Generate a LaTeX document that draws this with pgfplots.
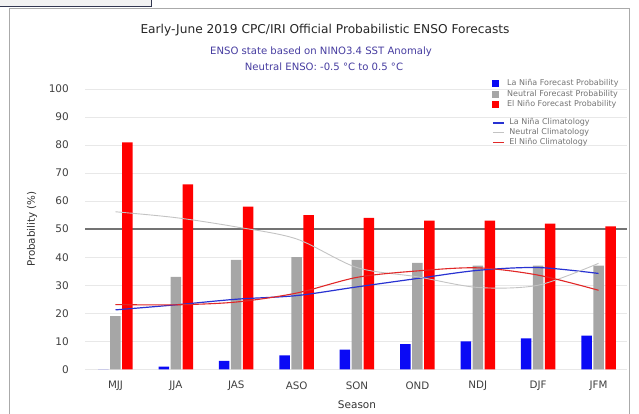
\documentclass[border=0pt]{standalone}
\usepackage{fontspec}
\setmainfont{DejaVu Sans}
\usepackage{pgfplots}
\pgfplotsset{compat=1.18}
\definecolor{lnblue}{RGB}{10,10,245}
\definecolor{neugray}{RGB}{166,166,166}
\definecolor{enred}{RGB}{255,0,0}
\definecolor{clblue}{RGB}{40,50,210}
\definecolor{clgray}{RGB}{195,195,195}
\definecolor{clred}{RGB}{225,40,40}
\definecolor{subpurple}{RGB}{70,60,160}
\definecolor{framegray}{RGB}{170,170,170}
\definecolor{boxedge}{RGB}{50,55,80}
\pgfplotsset{
  sqlegend/.style={legend image code/.code={\fill[##1,/tikz/.cd,draw=none] (0pt,-3.3pt) rectangle (7pt,3.3pt);}},
  lnlegend/.style={legend image code/.code={\draw[##1,/tikz/.cd] (0pt,0pt) -- (11pt,0pt);}},
}
\begin{document}
\begin{tikzpicture}
\path[use as bounding box] (0pt,0pt) rectangle (639pt,413pt);
% frame and top-left box
\draw[framegray, line width=1pt] (9pt,-5pt) -- (9pt,404pt) -- (629pt,404pt) -- (629pt,-5pt);
\draw[fill=black!5, draw=boxedge, line width=1pt] (-3pt,420pt) rectangle (151pt,406pt);
% titles
\node[font=\fontsize{12.2}{14}\selectfont, text=black!85] at (325pt,383pt) {Early-June 2019 CPC/IRI Official Probabilistic ENSO Forecasts};
\node[font=\fontsize{10.1}{12}\selectfont, text=subpurple] at (321pt,361pt) {ENSO state based on NINO3.4 SST Anomaly};
\node[font=\fontsize{10.1}{12}\selectfont, text=subpurple] at (324pt,346pt) {Neutral ENSO: -0.5 °C to 0.5 °C};
\node[rotate=90, font=\fontsize{10.3}{12}\selectfont, text=black!80] at (32pt,183.8pt) {Probability (\%)};
\node[font=\fontsize{10.5}{12}\selectfont, text=black!80] at (357pt,8pt) {Season};

\begin{axis}[
  at={(85pt,43.7pt)}, anchor=south west, scale only axis,
  width=542pt, height=280.3pt,
  xmin=-0.505, xmax=8.472, ymin=0, ymax=100,
  axis line style={draw=none}, major tick length=0pt,
  ytick={0,10,...,100}, ymajorgrids,
  grid style={color=black!9, line width=0.8pt},
  xtick={0,...,8}, xticklabels={MJJ,JJA,JAS,ASO,SON,OND,NDJ,DJF,JFM},
  xticklabel style={anchor=center, inner sep=0pt, yshift=-16.5pt, font=\fontsize{10.3}{11}\selectfont, text=black!75},
  yticklabel style={anchor=east, inner sep=0pt, xshift=-16pt, font=\fontsize{10.5}{11}\selectfont, text=black!75},
  /pgf/number format/assume math mode=true,
  clip=false,
  legend style={at={(axis description cs:0.7509,1.032)}, anchor=north west, draw=none, fill=none,
    inner sep=0pt, row sep=3.5pt, column sep=8pt,
    font=\fontsize{8}{8}\selectfont, text=black!55,
    nodes={inner sep=0pt, text height=5.5pt, text depth=1.5pt}},
  legend cell align=left,
]
\addplot[color=black!55, line width=2pt, forget plot] coordinates {(-0.505,50) (8.472,50)};
\addplot[ybar, bar width=10.5pt, bar shift=-12pt, fill=lnblue, draw=none, sqlegend]
  coordinates {(0,0) (1,1) (2,3) (3,5) (4,7) (5,9) (6,10) (7,11) (8,12)};
\addlegendentry{La Niña Forecast Probability}
\addplot[ybar, bar width=10.5pt, bar shift=0pt, fill=neugray, draw=none, sqlegend]
  coordinates {(0,19) (1,33) (2,39) (3,40) (4,39) (5,38) (6,37) (7,37) (8,37)};
\addlegendentry{Neutral Forecast Probability}
\addplot[ybar, bar width=10.5pt, bar shift=12pt, fill=enred, draw=none, sqlegend]
  coordinates {(0,81) (1,66) (2,58) (3,55) (4,54) (5,53) (6,53) (7,52) (8,51)};
\addlegendentry{El Niño Forecast Probability}
\end{axis}

\begin{axis}[
  at={(85pt,43.7pt)}, anchor=south west, scale only axis,
  width=542pt, height=280.3pt,
  xmin=-0.505, xmax=8.472, ymin=0, ymax=100,
  hide axis, clip=false,
  legend style={at={(axis description cs:0.7509,0.892)}, anchor=north west, draw=none, fill=none,
    inner sep=0pt, row sep=2.7pt, column sep=5pt,
    font=\fontsize{8}{8}\selectfont, text=black!55,
    nodes={inner sep=0pt, text height=5.5pt, text depth=1.5pt}},
  legend cell align=left,
]
\addplot[color=clblue, line width=1.2pt, smooth, lnlegend]
  coordinates {(0,21.2) (1,23.0) (2,25.0) (3,26.3) (4,29.4) (5,32.4) (6,35.3) (7,36.3) (8,34.2)};
\addlegendentry{La Niña Climatology}
\addplot[color=clgray, line width=0.9pt, smooth, lnlegend]
  coordinates {(0,56.2) (1,54.1) (2,50.8) (3,46.5) (4,36.3) (5,33.0) (6,29.2) (7,30.0) (8,37.8)};
\addlegendentry{Neutral Climatology}
\addplot[color=clred, line width=1.1pt, smooth, lnlegend]
  coordinates {(0,23.1) (1,23.0) (2,24.0) (3,27.2) (4,32.8) (5,35.1) (6,36.2) (7,33.6) (8,28.2)};
\addlegendentry{El Niño Climatology}
\end{axis}
\end{tikzpicture}
\end{document}
